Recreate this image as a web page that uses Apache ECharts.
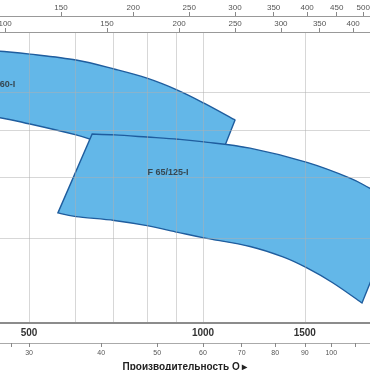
<!DOCTYPE html>
<html><head><meta charset="utf-8">
<script src="https://cdn.jsdelivr.net/npm/echarts@6/dist/echarts.min.js"></script>
<style>html,body{margin:0;padding:0;background:#fff}#c{width:370px;height:370px}</style>
</head><body><div id="c"></div>
<script>
// visible flow range (l/min) and head range (m)
const qMinLmin = 445.4, qMaxLmin = 1945;
const hMin = 10, hMax = 40;

// axis ticks / labels
const lminTicks = [500, 600, 700, 800, 900, 1000, 1500, 2000];
const lminLabels = [500, 1000, 1500, 2000];
const m3hTicks = [28, 30, 40, 50, 60, 70, 80, 90, 100, 110];
const m3hLabels = [30, 40, 50, 60, 70, 80, 90, 100];
const igpmLabels = [100, 150, 200, 250, 300, 350, 400];
const usgpmLabels = [150, 200, 250, 300, 350, 400, 450, 500];
const headGrid = [15, 20, 25, 30];

// pump working fields (Q l/min, H m): upper curve left->right, lower curve right->left
const pumpNames = ['F 65/160-I', 'F 65/125-I'];
const pump160TopQ = [351, 445, 502, 603, 704, 800, 905, 1004, 1136];
const pump160TopH = [37.4, 36.5, 36.0, 35.0, 33.5, 32.1, 30.3, 28.5, 26.3];
const pump160BotQ = [1033, 905, 800, 704, 638, 603, 502, 445, 351];
const pump160BotH = [19.7, 20.9, 22.05, 23.2, 24.0, 24.5, 25.8, 26.6, 27.7];
const pump125TopQ = [643, 704, 800, 905, 1004, 1206, 1513, 1796, 1945, 2210];
const pump125TopH = [24.6, 24.5, 24.25, 24.0, 23.7, 23.0, 21.5, 19.95, 19.0, 17.7];
const pump125BotQ = [1884, 1679, 1513, 1375, 1206, 1004, 905, 800, 702, 603, 561];
const pump125BotH = [11.0, 12.1, 13.0, 13.7, 14.4, 15.0, 15.4, 15.9, 16.3, 16.6, 16.9];
const labelQ = [436, 870];
const labelH = [31.1, 20.5];

const toM3h = 0.06, toUSgpm = 1 / 3.78541, toIGPM = 1 / 4.54609;
const polys = [
  {tq: pump160TopQ, th: pump160TopH, bq: pump160BotQ, bh: pump160BotH},
  {tq: pump125TopQ, th: pump125TopH, bq: pump125BotQ, bh: pump125BotH}
];

const gridColor = 'rgba(175,175,175,0.5)';
const narrow = '"Liberation Sans Narrow", "Liberation Sans", Arial, sans-serif';
const fmt = function (v) { return String(Math.round(v)); };

// smooth curve through pixel points (Catmull-Rom -> cubic Bezier)
function curvePath(pts, start) {
  let d = start ? 'M' + pts[0][0] + ' ' + pts[0][1] : 'L' + pts[0][0] + ' ' + pts[0][1];
  for (let i = 0; i < pts.length - 1; i++) {
    const p0 = pts[Math.max(i - 1, 0)], p1 = pts[i], p2 = pts[i + 1], p3 = pts[Math.min(i + 2, pts.length - 1)];
    const c1 = [p1[0] + (p2[0] - p0[0]) / 6, p1[1] + (p2[1] - p0[1]) / 6];
    const c2 = [p2[0] - (p3[0] - p1[0]) / 6, p2[1] - (p3[1] - p1[1]) / 6];
    d += ' C' + c1[0] + ' ' + c1[1] + ' ' + c2[0] + ' ' + c2[1] + ' ' + p2[0] + ' ' + p2[1];
  }
  return d;
}

const chart = echarts.init(document.getElementById('c'), null, {renderer: 'canvas'});
chart.setOption({
  animation: false,
  grid: {left: 0, right: 0, top: 32, bottom: 47, outerBoundsMode: 'none', containLabel: false},
  xAxis: [
    {
      type: 'log', position: 'bottom', min: qMinLmin, max: qMaxLmin, z: 5,
      axisLine: {show: true, lineStyle: {color: '#8c8c8c', width: 2}},
      axisTick: {show: false, customValues: lminTicks},
      axisLabel: {customValues: lminLabels, formatter: fmt, fontFamily: narrow, fontWeight: 'bold', fontSize: 10, color: '#333', margin: 5},
      splitLine: {show: true, lineStyle: {color: gridColor, width: 1}}
    },
    {
      type: 'log', position: 'bottom', offset: 20, min: qMinLmin * toM3h, max: qMaxLmin * toM3h, z: 5,
      axisLine: {show: true, lineStyle: {color: '#aaa', width: 1}},
      axisTick: {show: true, customValues: m3hTicks, length: 4, lineStyle: {color: '#888'}},
      axisLabel: {customValues: m3hLabels, formatter: fmt, fontFamily: narrow, fontSize: 7, color: '#555', margin: 7},
      splitLine: {show: false},
      name: 'Производительность Q ▸', nameLocation: 'middle', nameGap: 14,
      nameTextStyle: {fontFamily: '"Liberation Sans", Arial, sans-serif', fontWeight: 'bold', fontSize: 10, color: '#222'}
    },
    {
      type: 'log', position: 'top', offset: 0, min: qMinLmin * toIGPM, max: qMaxLmin * toIGPM, z: 5,
      axisLine: {show: true, lineStyle: {color: '#999', width: 1}},
      axisTick: {show: true, customValues: igpmLabels, length: 4, lineStyle: {color: '#888'}},
      axisLabel: {customValues: igpmLabels, formatter: fmt, fontFamily: narrow, fontSize: 8, color: '#555', margin: 4},
      splitLine: {show: false}
    },
    {
      type: 'log', position: 'top', offset: 16, min: qMinLmin * toUSgpm, max: qMaxLmin * toUSgpm, z: 5,
      axisLine: {show: true, lineStyle: {color: '#999', width: 1}},
      axisTick: {show: true, customValues: usgpmLabels, length: 4, lineStyle: {color: '#888'}},
      axisLabel: {customValues: usgpmLabels, formatter: fmt, fontFamily: narrow, fontSize: 8, color: '#555', margin: 4},
      splitLine: {show: false}
    }
  ],
  yAxis: {
    type: 'log', min: hMin, max: hMax, z: 5,
    axisLine: {show: false},
    axisTick: {show: false, customValues: headGrid},
    axisLabel: {show: false},
    splitLine: {show: true, lineStyle: {color: gridColor, width: 1}}
  },
  series: [
    {
      type: 'custom', coordinateSystem: 'cartesian2d', xAxisIndex: 0, yAxisIndex: 0, clip: true, z: 2,
      data: [[labelQ[0], labelH[0], 0], [labelQ[1], labelH[1], 1]],
      encode: {x: 0, y: 1},
      renderItem: function (params, api) {
        const p = polys[api.value(2)];
        const top = p.tq.map(function (q, i) { return api.coord([q, p.th[i]]); });
        const bot = p.bq.map(function (q, i) { return api.coord([q, p.bh[i]]); });
        const d = curvePath(top, true) + ' ' + curvePath(bot, false) + ' Z';
        return {type: 'path', shape: {pathData: d},
          style: {fill: '#63b7e8', stroke: '#1f5d9e', lineWidth: 1.4, lineJoin: 'miter'}};
      }
    },
    {
      type: 'scatter', xAxisIndex: 0, yAxisIndex: 0, clip: false, z: 10, symbolSize: 0,
      itemStyle: {color: 'transparent'}, silent: true,
      data: pumpNames.map(function (n, i) { return {name: n, value: [labelQ[i], labelH[i]]}; }),
      label: {show: true, position: 'inside', formatter: '{b}', fontFamily: narrow, fontWeight: 'bold', fontSize: 9, color: '#2a2a2a'}
    }
  ]
});
</script></body></html>
